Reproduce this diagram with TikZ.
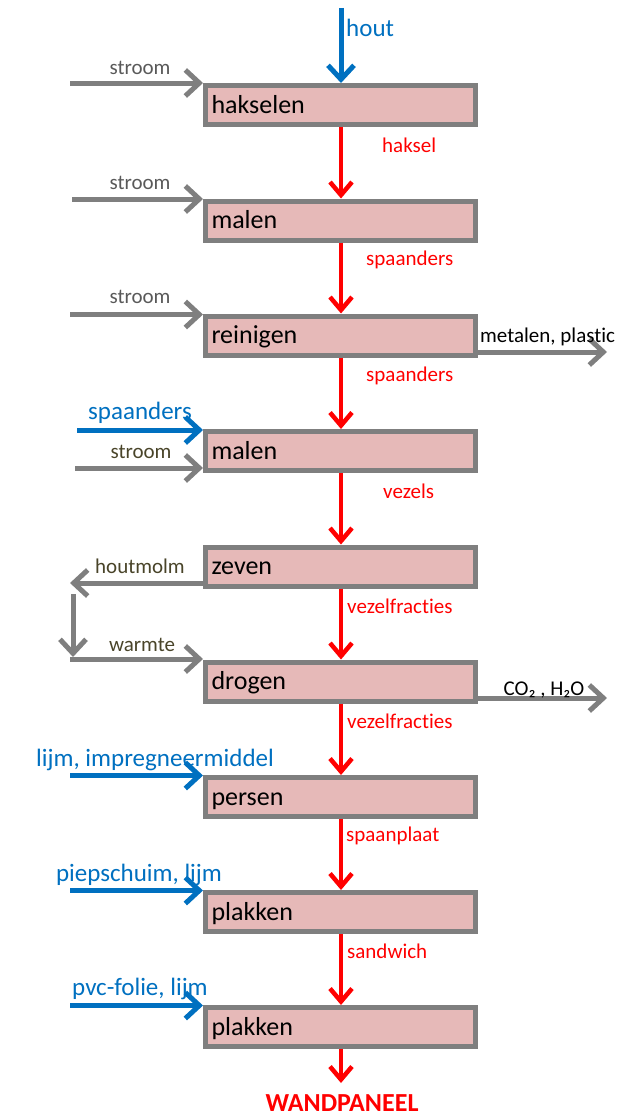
\documentclass[tikz,border=0pt]{standalone}
\usepackage{fontspec}
\setmainfont{Carlito}[Ligatures=NoCommon]
\usetikzlibrary{arrows.meta}
\definecolor{boxgray}{HTML}{7F7F7F}
\definecolor{boxpink}{HTML}{E6B9B8}
\definecolor{flowred}{HTML}{FF0000}
\definecolor{inblue}{HTML}{0070C0}
\definecolor{txtgray}{HTML}{595959}
\definecolor{txtolive}{HTML}{494429}
\tikzset{
  box/.style={draw=boxgray, line width=5pt, fill=boxpink, minimum width=270pt, minimum height=39pt,
    text width=258pt, inner xsep=6pt, inner ysep=0pt, text height=20pt, text depth=4pt,
    align=left, font=\fontsize{26}{28}\selectfont, text=black},
  flow/.style={draw=flowred, line width=4.5pt, -{Straight Barb[length=13pt,width=22pt]}},
  inflow/.style={draw=inblue, line width=5pt, -{Straight Barb[length=14pt,width=26pt]}},
  util/.style={draw=boxgray, line width=5pt, -{Straight Barb[length=14pt,width=26pt]}},
  smalllbl/.style={inner sep=0pt, font=\fontsize{21}{24}\selectfont},
  redlbl/.style={smalllbl, text=flowred, anchor=west},
  bluelbl/.style={inner sep=0pt, font=\fontsize{25}{28}\selectfont, text=inblue},
}
\begin{document}
\begin{tikzpicture}[x=1pt, y=-1pt]
\useasboundingbox (0,0) rectangle (617,1116);
% process boxes
\node[box] (b1) at (340.5,105) {hakselen};
\node[box] (b2) at (340.5,220.5) {malen};
\node[box] (b3) at (340.5,335.5) {reinigen};
\node[box] (b4) at (340.5,451) {malen};
\node[box] (b5) at (340.5,566.5) {zeven};
\node[box] (b6) at (340.5,681.5) {drogen};
\node[box] (b7) at (340.5,797) {persen};
\node[box] (b8) at (340.5,912) {plakken};
\node[box] (b9) at (340.5,1027) {plakken};
% main flow
\coordinate (top) at (341,8);
\draw[inflow] (top) -- (top |- b1.north);
\node[bluelbl, anchor=west] (hout) at (346,28) {hout};
\foreach \a/\b in {b1/b2,b2/b3,b3/b4,b4/b5,b5/b6,b6/b7,b7/b8,b8/b9}{
  \draw[flow] (top |- \a.south) -- (top |- \b.north);
}
\coordinate (fin) at (341,1083);
\draw[flow] (top |- b9.south) -- (fin);
\node[inner sep=0pt, font=\fontsize{26}{28}\selectfont\bfseries, text=flowred] (wp) at (342,1103) {WANDPANEEL};
% red labels
\node[redlbl] (l1) at (382,145) {haksel};
\node[redlbl] (l2) at (366,260) {spaanders};
\node[redlbl] (l3) at (366,375.5) {spaanders};
\node[redlbl] (l4) at (383,491) {vezels};
\node[redlbl] (l5) at (347,606) {vezelfracties};
\node[redlbl] (l6) at (347,721) {vezelfracties};
\node[redlbl] (l7) at (346,836) {spaanplaat};
\node[redlbl] (l8) at (347,951) {sandwich};
% stroom inputs
\coordinate (s1) at (70,83);
\draw[util] (s1) -- (s1 -| b1.west);
\node[smalllbl, text=txtgray] (t1) at (140,68) {stroom};
\coordinate (s2) at (72,199);
\draw[util] (s2) -- (s2 -| b2.west);
\node[smalllbl, text=txtgray] (t2) at (140,183) {stroom};
\coordinate (s3) at (70,314.5);
\draw[util] (s3) -- (s3 -| b3.west);
\node[smalllbl, text=txtgray] (t3) at (140,297) {stroom};
\coordinate (s4) at (75,468);
\draw[util] (s4) -- (s4 -| b4.west);
\node[smalllbl, text=txtolive] (t4) at (141,452) {stroom};
% blue inputs
\coordinate (i4) at (77,430);
\draw[inflow] (i4) -- (i4 -| b4.west);
\node[bluelbl] (n4) at (140,413) {spaanders};
\coordinate (i7) at (70,775.5);
\draw[inflow] (i7) -- (i7 -| b7.west);
\node[bluelbl] (n7) at (155,760) {lijm, impregneermiddel};
\coordinate (i8) at (70,890.5);
\draw[inflow] (i8) -- (i8 -| b8.west);
\node[bluelbl] (n8) at (139,875) {piepschuim, lijm};
\coordinate (i9) at (70,1005.5);
\draw[inflow] (i9) -- (i9 -| b9.west);
\node[bluelbl] (n9) at (140,989) {pvc-folie, lijm};
% outputs
\coordinate (o3) at (607,352);
\draw[util] (o3 -| b3.east) -- (o3);
\node[smalllbl, text=black, anchor=west] (m3) at (480,337) {metalen, plastic};
\coordinate (o6) at (607,698);
\draw[util] (o6 -| b6.east) -- (o6);
\node[smalllbl, text=black] (m6) at (544,690) {CO₂ , H₂O};
% houtmolm recycle
\coordinate (hm) at (70,583);
\draw[util] (hm -| b5.west) -- (hm);
\node[smalllbl, text=txtolive] (t5) at (140,566) {houtmolm};
\coordinate (v1) at (73,594);
\coordinate (v2) at (73,657);
\draw[util] (v1) -- (v2);
\coordinate (w) at (70,659);
\draw[util] (w) -- (w -| b6.west);
\node[smalllbl, text=txtolive] (t6) at (142,645) {warmte};
\end{tikzpicture}
\end{document}
